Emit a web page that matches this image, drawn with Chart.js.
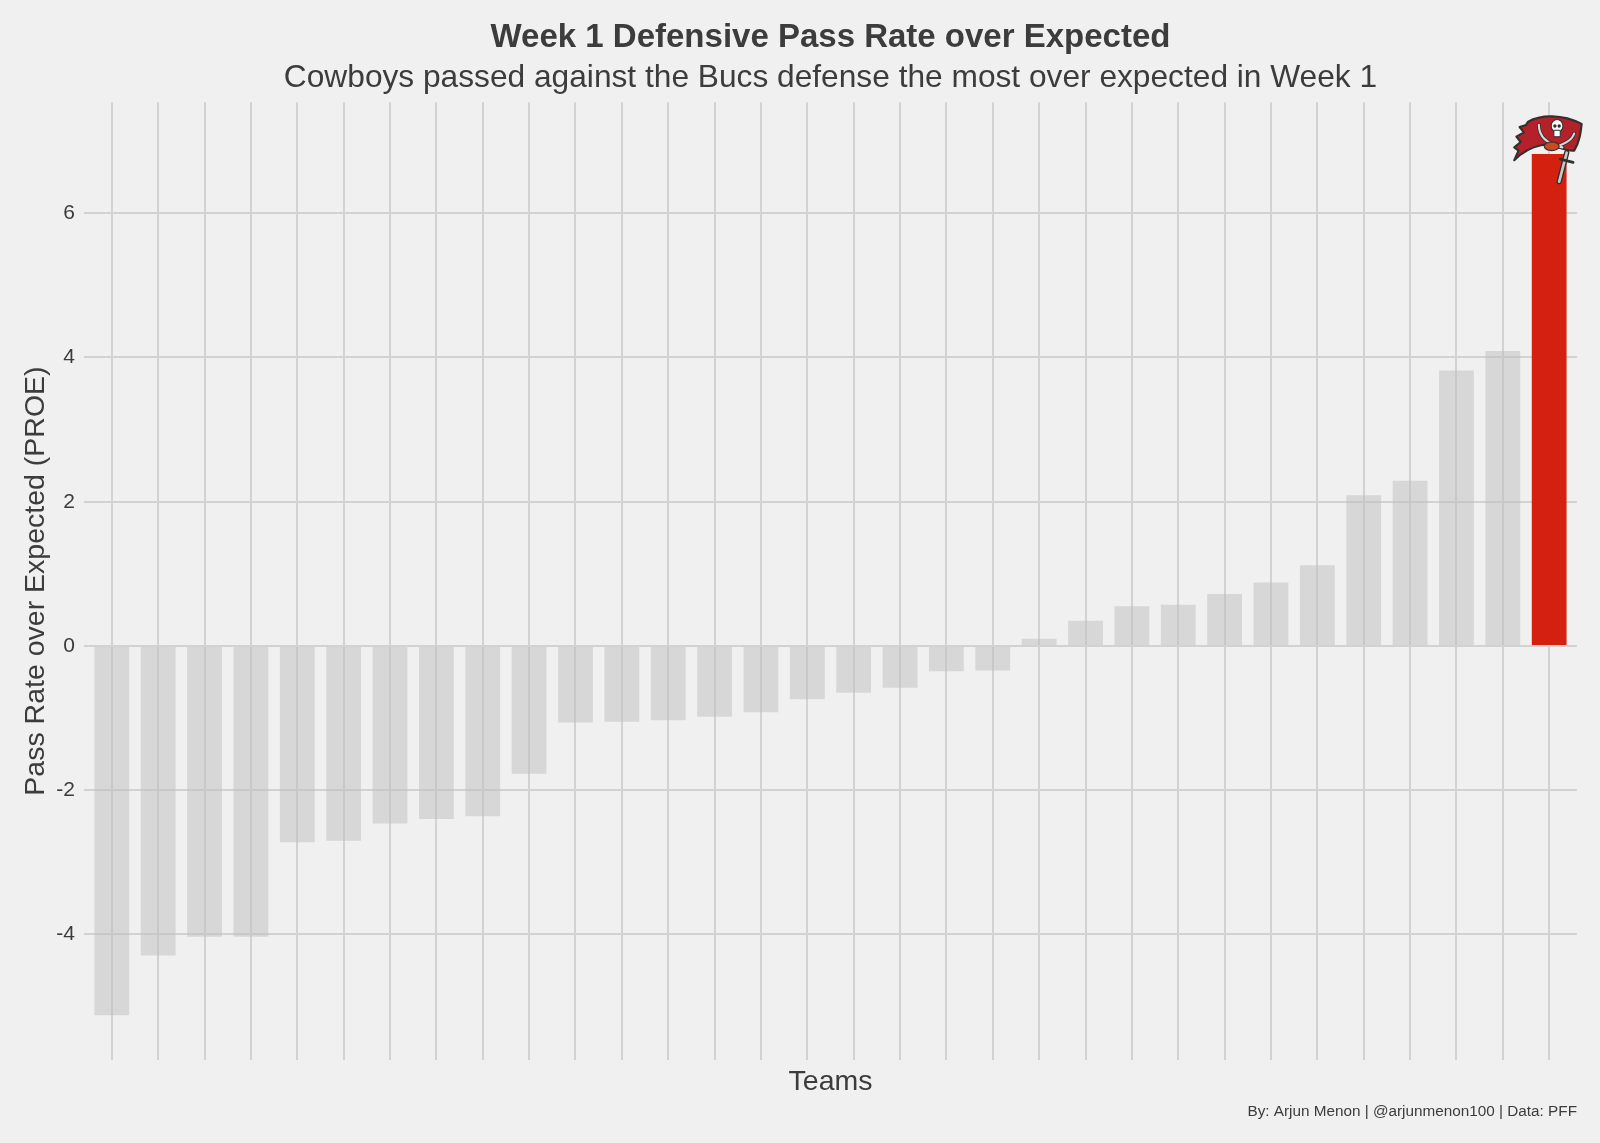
<!DOCTYPE html>
<html lang="en">
<head>
  <meta charset="UTF-8">
  <title>Week 1 Defensive PROE</title>
  <script src="https://cdn.jsdelivr.net/npm/chart.js"></script>
  <style>
    body {
      margin: 0;
      background: #f0f0f0;
    }
    .wrap {
      width: 1600px;
      height: 1143px;
      position: relative;
    }
  </style>
</head>
<body>
  <div class="wrap">
    <canvas id="proeChart"></canvas>
  </div>

  <script>
    // teams sorted by defensive PROE, Bucs last (only team named in the chart)
    const teams = ['1', '2', '3', '4', '5', '6', '7', '8', '9', '10', '11', '12', '13', '14', '15', '16',
                   '17', '18', '19', '20', '21', '22', '23', '24', '25', '26', '27', '28', '29', '30', '31', 'TB'];
    const proe = [-5.12, -4.29, -4.03, -4.03, -2.72, -2.70, -2.46, -2.40, -2.36, -1.77, -1.06, -1.05,
                  -1.03, -0.98, -0.92, -0.74, -0.65, -0.58, -0.35, -0.34, 0.10, 0.35, 0.55, 0.57,
                  0.72, 0.88, 1.12, 2.09, 2.29, 3.82, 4.09, 6.82];
    const yTicks = [-4, -2, 0, 2, 4, 6];
    const yRange = [-5.74, 7.54];
    const xPad = 0.6; // ggplot discrete expansion
    const highlight = 'TB';

    const ink = '#3c3c3c';
    const font = 'Liberation Sans, Arial, Helvetica, sans-serif';

    const caption = {
      id: 'caption',
      afterDraw(chart) {
        const ctx = chart.ctx;
        ctx.save();
        ctx.font = '15.3px ' + font;
        ctx.fillStyle = ink;
        ctx.textAlign = 'right';
        ctx.textBaseline = 'middle';
        ctx.fillText('By: Arjun Menon | @arjunmenon100 | Data: PFF', chart.chartArea.right, 1112);
        ctx.restore();
      }
    };

    // rough drawing of the Bucs flag logo on top of the highlighted bar
    const bucsLogo = {
      id: 'bucsLogo',
      afterDatasetsDraw(chart) {
        const bar = chart.getDatasetMeta(0).data[teams.indexOf(highlight)];
        if (!bar) return;
        const ctx = chart.ctx;
        ctx.save();
        ctx.translate(bar.x - 36, bar.y - 42);
        ctx.scale(1.07, 1.07);
        ctx.lineJoin = 'round';
        ctx.lineCap = 'round';

        // flag
        ctx.beginPath();
        ctx.moveTo(14, 9);
        ctx.bezierCurveTo(26, 2, 46, 2, 64, 11);
        ctx.bezierCurveTo(63, 20, 62, 28, 57, 36);
        ctx.bezierCurveTo(46, 37, 38, 28, 26, 31);
        ctx.bezierCurveTo(16, 33, 8, 38, 1, 45);
        ctx.lineTo(5, 36);
        ctx.lineTo(1, 33);
        ctx.lineTo(7, 28);
        ctx.lineTo(3, 23);
        ctx.lineTo(10, 19);
        ctx.lineTo(6, 14);
        ctx.lineTo(12, 12);
        ctx.closePath();
        ctx.fillStyle = '#b5212a';
        ctx.fill();
        ctx.strokeStyle = '#34302b';
        ctx.lineWidth = 2;
        ctx.stroke();

        // sabers
        ctx.lineWidth = 3.5;
        ctx.strokeStyle = '#34302b';
        ctx.beginPath();
        ctx.moveTo(24, 12);
        ctx.quadraticCurveTo(24, 28, 46, 33);
        ctx.moveTo(57, 20);
        ctx.quadraticCurveTo(54, 30, 32, 34);
        ctx.stroke();
        ctx.lineWidth = 2;
        ctx.strokeStyle = '#d8d8d8';
        ctx.stroke();

        // skull
        ctx.fillStyle = '#ffffff';
        ctx.strokeStyle = '#34302b';
        ctx.lineWidth = 1;
        ctx.beginPath();
        ctx.ellipse(41, 13, 5.5, 6, 0, 0, Math.PI * 2);
        ctx.fill();
        ctx.stroke();
        ctx.fillRect(38, 17, 6, 6);
        ctx.strokeRect(38, 17, 6, 6);
        ctx.fillStyle = '#34302b';
        ctx.beginPath();
        ctx.arc(39, 13, 1.6, 0, Math.PI * 2);
        ctx.arc(43, 13, 1.6, 0, Math.PI * 2);
        ctx.fill();

        // football
        ctx.fillStyle = '#cc4a22';
        ctx.beginPath();
        ctx.ellipse(36, 32, 7, 4, 0, 0, Math.PI * 2);
        ctx.fill();
        ctx.stroke();

        // hanging sword
        ctx.lineWidth = 5;
        ctx.strokeStyle = '#34302b';
        ctx.beginPath();
        ctx.moveTo(50, 38);
        ctx.lineTo(43, 65);
        ctx.stroke();
        ctx.lineWidth = 2.5;
        ctx.strokeStyle = '#c8c8c8';
        ctx.stroke();
        ctx.lineWidth = 2.5;
        ctx.strokeStyle = '#34302b';
        ctx.beginPath();
        ctx.moveTo(44, 44);
        ctx.lineTo(56, 47);
        ctx.stroke();
        ctx.restore();
      }
    };

    const ctx = document.getElementById('proeChart').getContext('2d');
    new Chart(ctx, {
      type: 'bar',
      data: {
        labels: teams,
        datasets: [{
          data: proe.map((v, i) => ({ x: i, y: v })),
          backgroundColor: teams.map(t => t === highlight ? '#d4200f' : 'rgba(190,190,190,0.5)'),
          categoryPercentage: 1,
          barPercentage: 0.75
        }]
      },
      options: {
        responsive: true,
        maintainAspectRatio: false,
        animation: false,
        layout: { padding: { left: 0, right: 23, top: 0, bottom: 0 } },
        plugins: {
          legend: { display: false },
          tooltip: { enabled: false },
          title: {
            display: true,
            fullSize: false,
            text: 'Week 1 Defensive Pass Rate over Expected',
            color: ink,
            font: { family: font, size: 33, weight: 'bold' },
            padding: { top: 18, bottom: 2 }
          },
          subtitle: {
            display: true,
            fullSize: false,
            text: 'Cowboys passed against the Bucs defense the most over expected in Week 1',
            color: ink,
            font: { family: font, size: 31.7 },
            padding: { top: 0, bottom: 4.5 }
          }
        },
        scales: {
          x: {
            type: 'linear',
            offset: false,
            min: -xPad,
            max: teams.length - 1 + xPad,
            border: { display: false },
            grid: { color: '#d2d2d2', lineWidth: 2, drawTicks: false, offset: false },
            afterBuildTicks(scale) { scale.ticks = teams.map((t, i) => ({ value: i })); },
            ticks: { display: false },
            title: {
              display: true,
              text: 'Teams',
              color: ink,
              font: { family: font, size: 28.5 },
              padding: { top: 0, bottom: 44 }
            },
            afterFit(scale) { scale.height = 83; }
          },
          y: {
            min: yRange[0],
            max: yRange[1],
            border: { display: false },
            grid: { color: '#d2d2d2', lineWidth: 2, drawTicks: false },
            afterBuildTicks(scale) { scale.ticks = yTicks.map(v => ({ value: v })); },
            ticks: {
              color: ink,
              padding: 9,
              font: { family: font, size: 21 }
            },
            title: {
              display: true,
              text: 'Pass Rate over Expected (PROE)',
              color: ink,
              font: { family: font, size: 28.5 },
              padding: { top: 19, bottom: 0 }
            },
            afterFit(scale) { scale.width = 84; }
          }
        }
      },
      plugins: [caption, bucsLogo]
    });
  </script>
</body>
</html>
